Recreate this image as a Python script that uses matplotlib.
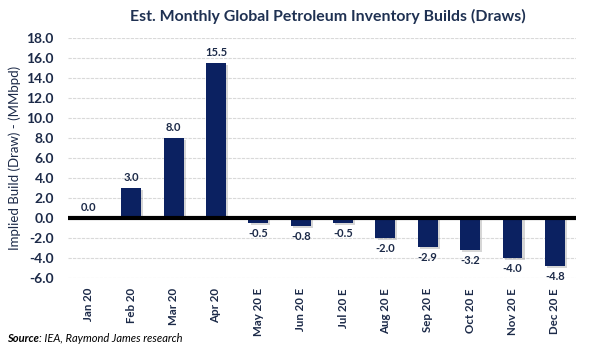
import matplotlib
matplotlib.use('Agg')
from matplotlib import pyplot as plt
from matplotlib import patheffects as pe

months = ['Jan 20', 'Feb 20', 'Mar 20', 'Apr 20', 'May 20 E', 'Jun 20 E',
          'Jul 20 E', 'Aug 20 E', 'Sep 20 E', 'Oct 20 E', 'Nov 20 E', 'Dec 20 E']
builds = [0.0, 3.0, 8.0, 15.5, -0.5, -0.8, -0.5, -2.0, -2.9, -3.2, -4.0, -4.8]
yticks = [-6, -4, -2, 0, 2, 4, 6, 8, 10, 12, 14, 16, 18]

navy = '#0b2161'
text_col = '#1c2a48'

plt.rcParams['font.family'] = ['Lato', 'DejaVu Sans']

fig = plt.figure(figsize=(6, 3.48), dpi=100)
ax = fig.add_axes([0.113, 0.2, 0.847, 0.691])

x = list(range(len(months)))
bars = ax.bar(x, builds, width=0.47, color=navy, zorder=3)
for b in bars:
    b.set_path_effects([pe.SimplePatchShadow(offset=(1.5, -1.5), shadow_rgbFace='#8a8a8a', alpha=0.35),
                        pe.Normal()])

for xi, v in zip(x, builds):
    if v >= 0:
        ax.text(xi, v + 0.5, f'{v:.1f}', ha='center', va='bottom',
                fontsize=8, fontweight='bold', color=text_col)
    else:
        ax.text(xi, v - 0.5, f'{v:.1f}', ha='center', va='top',
                fontsize=8, fontweight='bold', color=text_col)

ax.axhline(0, color='black', linewidth=3, zorder=4)

ax.set_xlim(-0.5, len(months) - 0.5)
ax.set_ylim(-6, 18)
ax.set_yticks(yticks)
ax.set_yticklabels([f'{t:.1f}' for t in yticks], fontsize=10, fontweight='bold', color=text_col)
ax.set_xticks(x)
ax.set_xticklabels(months, rotation=90, fontsize=8.3, fontweight='bold', color=text_col)
ax.tick_params(axis='x', length=0, pad=7)
ax.tick_params(axis='y', length=0, pad=10)
ax.grid(axis='y', color='#d9d9d9', linewidth=0.8, linestyle=(0, (3, 1)), zorder=0)
for s in ax.spines.values():
    s.set_visible(False)

ax.set_ylabel('Implied Build (Draw) - (MMbpd)', fontsize=9.5, color=text_col, labelpad=4)

fig.text(0.547, 0.952, 'Est. Monthly Global Petroleum Inventory Builds (Draws)',
         ha='center', va='center', fontsize=11.4, fontweight='bold', color='#1f3152')

# source line: bold-italic word followed by italic text
src = fig.text(0.012, 0.028, 'Source', fontsize=8, fontweight='bold',
               style='italic', color='black', va='center')
fig.canvas.draw()
bb = src.get_window_extent()
fig.text(bb.x1 / fig.bbox.width, 0.028, ': IEA, Raymond James research', fontsize=8,
         style='italic', color='black', va='center')

fig.savefig('out.png', dpi=100)
